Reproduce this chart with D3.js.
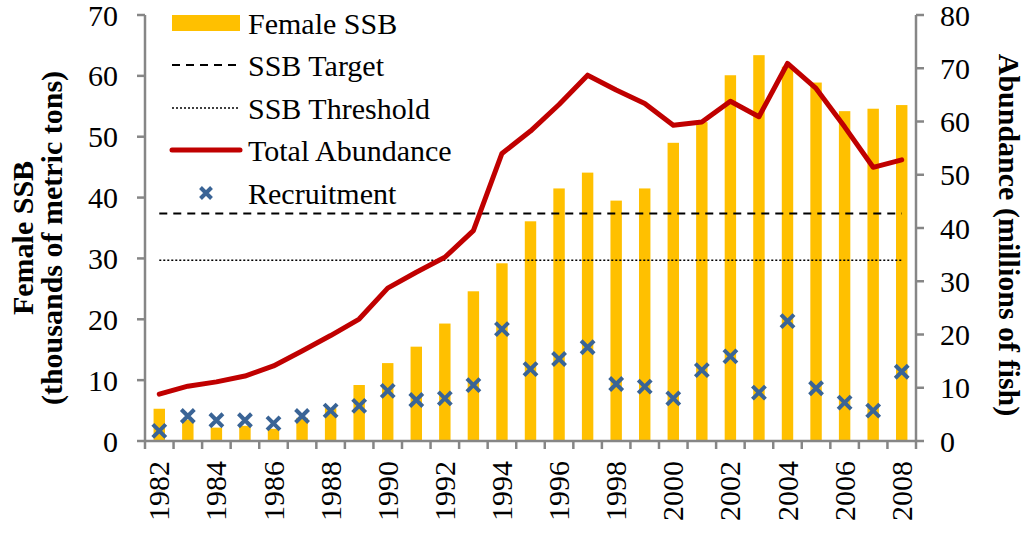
<!DOCTYPE html>
<html>
<head>
<meta charset="utf-8">
<script src="https://cdn.jsdelivr.net/npm/d3@7"></script>
<style>
  html, body { margin: 0; padding: 0; background: #fff; }
  svg text { font-family: "Liberation Serif", "DejaVu Serif", serif; }
</style>
</head>
<body>
<div id="chart"></div>
<script>
const years = d3.range(1982, 2009);
const femaleSSB = [5.3, 3.5, 2.2, 2.5, 2.0, 3.8, 5.4, 9.2, 12.8, 15.5, 19.3, 24.6, 29.2, 36.1,
  41.5, 44.1, 39.5, 41.5, 49.0, 52.4, 60.1, 63.4, 61.5, 58.9, 54.2, 54.6, 55.2];
const totalAbundance = [8.8, 10.3, 11.1, 12.2, 14.1, 16.9, 19.8, 22.9, 28.7, 31.7, 34.5, 39.5,
  54.0, 58.2, 63.2, 68.7, 65.9, 63.4, 59.3, 59.9, 63.8, 60.9, 70.9, 66.2, 59.0, 51.4, 52.8];
const recruitment = [1.9, 4.7, 3.9, 3.9, 3.3, 4.7, 5.7, 6.6, 9.4, 7.7, 8.0, 10.5, 21.0, 13.5,
  15.4, 17.6, 10.7, 10.2, 8.0, 13.3, 15.9, 9.1, 22.5, 9.9, 7.2, 5.7, 13.0];
const ssbTarget = 37.4;
const ssbThreshold = 29.7;
const leftTicks = [0, 10, 20, 30, 40, 50, 60, 70];
const rightTicks = [0, 10, 20, 30, 40, 50, 60, 70, 80];
const yearLabels = years.filter(y => y % 2 === 0);

const width = 1027, height = 533;
const plotL = 145, plotR = 916, plotT = 15, plotB = 441;
const axisColor = '#868686';
const fs = 30;

const svg = d3.select('#chart').append('svg').attr('width', width).attr('height', height)
  .attr('font-family', '"Liberation Serif", "DejaVu Serif", serif');

const x = d3.scaleBand().domain(years).range([plotL, plotR]).padding(0);
const yL = d3.scaleLinear().domain([0, 70]).range([plotB, plotT]);
const yR = d3.scaleLinear().domain([0, 80]).range([plotB, plotT]);
const cx = d => x(d) + x.bandwidth() / 2;
const barW = x.bandwidth() * 0.4;

// bars
svg.append('g').selectAll('rect')
  .data(years)
  .join('rect')
  .attr('x', (d) => cx(d) - barW / 2)
  .attr('width', barW)
  .attr('y', (d, i) => yL(femaleSSB[i]))
  .attr('height', (d, i) => plotB - yL(femaleSSB[i]))
  .attr('fill', '#FFC000');

// reference lines
svg.append('line')
  .attr('x1', cx(years[0])).attr('x2', cx(years[years.length - 1]))
  .attr('y1', yL(ssbTarget)).attr('y2', yL(ssbTarget))
  .attr('stroke', '#000').attr('stroke-width', 2).attr('stroke-dasharray', '8,6');
svg.append('line')
  .attr('x1', cx(years[0])).attr('x2', cx(years[years.length - 1]))
  .attr('y1', yL(ssbThreshold)).attr('y2', yL(ssbThreshold))
  .attr('stroke', '#000').attr('stroke-width', 1.5).attr('stroke-dasharray', '2,2');

// abundance line
const line = d3.line().x((d, i) => cx(years[i])).y(d => yR(d));
svg.append('path')
  .datum(totalAbundance)
  .attr('d', line)
  .attr('fill', 'none')
  .attr('stroke', '#C00000')
  .attr('stroke-width', 5)
  .attr('stroke-linejoin', 'round')
  .attr('stroke-linecap', 'round');

// recruitment markers
const xMark = (g, s) => g.append('path')
  .attr('d', `M${-s},${-s}L${s},${s}M${-s},${s}L${s},${-s}`)
  .attr('stroke', '#3A6496').attr('stroke-width', 4).attr('fill', 'none');
svg.append('g').selectAll('g')
  .data(recruitment)
  .join('g')
  .attr('transform', (d, i) => `translate(${cx(years[i])},${yR(d)})`)
  .each(function () { xMark(d3.select(this), 6.5); });

// axes
const axes = svg.append('g').attr('stroke', axisColor).attr('stroke-width', 2.5);
axes.append('line').attr('x1', plotL).attr('x2', plotL).attr('y1', plotT).attr('y2', plotB);
axes.append('line').attr('x1', plotR).attr('x2', plotR).attr('y1', plotT).attr('y2', plotB);
axes.append('line').attr('x1', plotL).attr('x2', plotR).attr('y1', plotB).attr('y2', plotB);
axes.selectAll('.tl').data(leftTicks).join('line')
  .attr('x1', plotL - 8).attr('x2', plotL).attr('y1', d => yL(d)).attr('y2', d => yL(d));
axes.selectAll('.tr').data(rightTicks).join('line')
  .attr('x1', plotR).attr('x2', plotR + 8).attr('y1', d => yR(d)).attr('y2', d => yR(d));
axes.selectAll('.tx').data(years.concat([null])).join('line')
  .attr('x1', d => d === null ? plotR : x(d)).attr('x2', d => d === null ? plotR : x(d))
  .attr('y1', plotB).attr('y2', plotB + 8);

// tick labels
svg.append('g').selectAll('text').data(leftTicks).join('text')
  .attr('x', plotL - 27).attr('y', d => yL(d)).attr('dy', '0.35em')
  .attr('text-anchor', 'end').attr('font-size', fs).text(d => d);
svg.append('g').selectAll('text').data(rightTicks).join('text')
  .attr('x', plotR + 24).attr('y', d => yR(d)).attr('dy', '0.35em')
  .attr('text-anchor', 'start').attr('font-size', fs).text(d => d);
svg.append('g').selectAll('text').data(yearLabels).join('text')
  .attr('transform', d => `translate(${cx(d) + 10},${plotB + 20}) rotate(-90)`)
  .attr('text-anchor', 'end').attr('font-size', fs).text(d => d);

// axis titles
svg.append('text')
  .attr('transform', 'translate(33,238) rotate(-90)')
  .attr('text-anchor', 'middle').attr('font-size', fs).attr('font-weight', 'bold')
  .text('Female SSB');
svg.append('text')
  .attr('transform', 'translate(62,238) rotate(-90)')
  .attr('text-anchor', 'middle').attr('font-size', fs).attr('font-weight', 'bold')
  .text('(thousands of metric tons)');
svg.append('text')
  .attr('transform', 'translate(999,235) rotate(90)')
  .attr('text-anchor', 'middle').attr('font-size', fs).attr('font-weight', 'bold')
  .text('Abundance (millions of fish)');

// legend
const legend = svg.append('g');
const rows = [
  { label: 'Female SSB', y: 23 },
  { label: 'SSB Target', y: 65 },
  { label: 'SSB Threshold', y: 108 },
  { label: 'Total Abundance', y: 150 },
  { label: 'Recruitment', y: 193 }
];
legend.append('rect').attr('x', 172).attr('y', 15).attr('width', 68).attr('height', 16).attr('fill', '#FFC000');
legend.append('line').attr('x1', 172).attr('x2', 238).attr('y1', 65).attr('y2', 65)
  .attr('stroke', '#000').attr('stroke-width', 2).attr('stroke-dasharray', '8,6');
legend.append('line').attr('x1', 172).attr('x2', 238).attr('y1', 108).attr('y2', 108)
  .attr('stroke', '#000').attr('stroke-width', 1.5).attr('stroke-dasharray', '2,2');
legend.append('line').attr('x1', 172).attr('x2', 240).attr('y1', 150).attr('y2', 150)
  .attr('stroke', '#C00000').attr('stroke-width', 5).attr('stroke-linecap', 'round');
xMark(legend.append('g').attr('transform', 'translate(206,193)'), 5.5);
legend.selectAll('text').data(rows).join('text')
  .attr('x', 248).attr('y', d => d.y).attr('dy', '0.35em')
  .attr('font-size', fs).text(d => d.label);
</script>
</body>
</html>
